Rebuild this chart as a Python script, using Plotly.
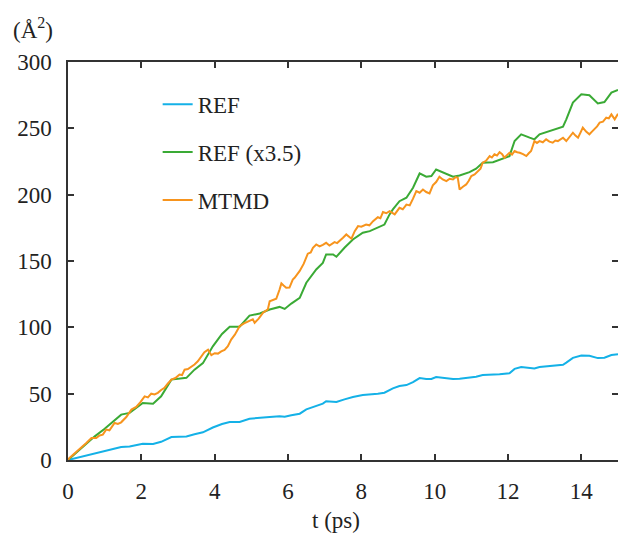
import plotly.graph_objects as go

# ---- data ----
t_ref = [0, 0.25, 0.5, 0.73, 1.0, 1.18, 1.45, 1.68, 1.86, 2.04, 2.32, 2.54, 2.82, 3.23, 3.45,
         3.68, 3.95, 4.2, 4.41, 4.68, 4.95, 5.23, 5.5, 5.77, 5.91, 6.09, 6.32, 6.5, 6.77, 6.95,
         7.04, 7.23, 7.32, 7.54, 7.77, 8.04, 8.23, 8.45, 8.63, 8.77, 8.86, 9.04, 9.23, 9.41,
         9.59, 9.77, 9.91, 10.04, 10.22, 10.5, 10.68, 10.95, 11.13, 11.31, 11.59, 11.77, 12.04,
         12.18, 12.36, 12.59, 12.72, 12.86, 13.22, 13.5, 13.59, 13.77, 14.0, 14.22, 14.45,
         14.63, 14.82, 15.0]
ref = [0, 1.71, 3.57, 5.09, 6.71, 7.97, 9.77, 10.14, 11.2, 12.29, 12.14, 13.71, 17.31, 17.69,
       19.46, 20.86, 24.49, 27.14, 28.71, 28.69, 31.11, 31.54, 32.4, 32.97, 32.54, 33.69, 34.91,
       38.17, 41.03, 42.46, 44.26, 44.26, 43.77, 45.71, 47.49, 48.94, 49.29, 50.0, 50.71, 52.89,
       53.97, 55.74, 56.49, 58.63, 61.71, 61.0, 61.14, 62.57, 61.89, 61.0, 61.29, 62.0, 62.74,
       64.0, 64.14, 64.6, 65.43, 68.69, 70.14, 69.43, 69.06, 70.14, 71.0, 71.8, 73.37, 76.97,
       78.74, 78.54, 76.8, 77.09, 79.11, 79.69]
scale = 3.5
ref_scaled = [v * scale for v in ref]

t_mtmd = [0, 0.04, 0.2, 0.36, 0.5, 0.64, 0.77, 0.86, 0.95, 1.04, 1.13, 1.27, 1.36, 1.45, 1.59,
          1.73, 1.86, 1.97, 2.09, 2.18, 2.27, 2.36, 2.45, 2.54, 2.63, 2.72, 2.82, 2.93, 3.04,
          3.11, 3.18, 3.27, 3.36, 3.45, 3.54, 3.63, 3.72, 3.82, 3.91, 4.0, 4.09, 4.18, 4.27,
          4.36, 4.45, 4.55, 4.68, 4.8, 4.95, 5.04, 5.09, 5.2, 5.32, 5.45, 5.5, 5.59, 5.68, 5.77,
          5.82, 5.88, 5.95, 6.04, 6.13, 6.18, 6.25, 6.32, 6.43, 6.54, 6.62, 6.68, 6.77, 6.86,
          6.95, 7.04, 7.13, 7.2, 7.27, 7.34, 7.41, 7.5, 7.59, 7.66, 7.73, 7.82, 7.91, 8.0, 8.13,
          8.22, 8.32, 8.45, 8.52, 8.59, 8.68, 8.77, 8.84, 8.91, 9.04, 9.13, 9.23, 9.32, 9.41,
          9.5, 9.59, 9.68, 9.77, 9.86, 9.95, 10.04, 10.13, 10.22, 10.32, 10.41, 10.5, 10.57,
          10.63, 10.68, 10.77, 10.86, 10.93, 11.0, 11.09, 11.18, 11.25, 11.31, 11.4, 11.5,
          11.56, 11.63, 11.7, 11.77, 11.84, 11.9, 11.97, 12.04, 12.11, 12.18, 12.25, 12.32,
          12.41, 12.5, 12.56, 12.63, 12.72, 12.79, 12.86, 12.95, 13.04, 13.13, 13.22, 13.29,
          13.36, 13.43, 13.5, 13.59, 13.68, 13.77, 13.84, 13.91, 13.98, 14.04, 14.13, 14.22,
          14.29, 14.36, 14.43, 14.5, 14.59, 14.68, 14.75, 14.82, 14.91, 15.0]
mtmd = [0, 1.5, 5.5, 9.1, 12.8, 16.6, 16.6, 18.5, 19.1, 22.9, 22.4, 27.9, 27.2, 28.4, 32.4,
        38.0, 40.0, 43.5, 48.0, 47.2, 50.0, 49.4, 50.6, 52.8, 54.3, 57.5, 60.6, 61.8, 64.4,
        64.0, 68.1, 68.6, 70.2, 72.0, 74.4, 77.5, 81.2, 83.2, 79.0, 80.5, 80.2, 81.9, 83.0,
        85.7, 90.8, 94.5, 100.8, 103.0, 104.6, 106.0, 103.4, 106.5, 111.0, 113.5, 119.7, 120.5,
        121.5, 128.5, 133.1, 131.5, 129.8, 130.0, 136.0, 137.3, 139.5, 142.5, 148.0, 155.5,
        156.5, 160.0, 162.5, 161.0, 162.2, 163.7, 161.7, 163.0, 164.2, 163.5, 165.0, 167.5,
        170.0, 168.5, 166.8, 172.5, 176.3, 175.8, 177.5, 176.9, 180.0, 183.0, 182.2, 186.9,
        186.0, 187.6, 186.5, 185.1, 190.1, 189.0, 192.5, 191.9, 197.0, 202.7, 201.5, 203.9,
        202.0, 200.9, 207.0, 209.5, 213.5, 211.5, 210.2, 212.0, 211.5, 213.2, 212.8, 203.9,
        206.0, 207.7, 210.5, 214.0, 215.2, 217.8, 219.5, 224.1, 225.5, 229.1, 228.0, 230.4,
        229.5, 232.1, 230.5, 227.9, 229.5, 231.6, 230.2, 232.9, 232.0, 231.6, 230.5, 229.1,
        231.0, 232.9, 240.4, 239.0, 240.4, 239.5, 241.7, 240.0, 239.2, 240.8, 240.4, 241.5,
        242.9, 240.4, 243.5, 246.7, 244.5, 242.9, 247.0, 250.5, 247.5, 245.5, 247.5, 249.2,
        251.5, 254.3, 255.0, 258.0, 257.5, 260.5, 256.8, 261.0]

series_names = ["REF", "REF (x3.5)", "MTMD"]
x_ticks = [0, 2, 4, 6, 8, 10, 12, 14]
y_ticks = [0, 50, 100, 150, 200, 250, 300]

colors = ["#14b1e7", "#3aaa35", "#f7941d"]
FONT = "Liberation Serif, Times New Roman, DejaVu Serif, serif"
TXT = "#222222"
FS = 23

fig = go.Figure()
for name, xs, ys, c in zip(series_names, [t_ref, t_ref, t_mtmd],
                           [ref, ref_scaled, mtmd], colors):
    fig.add_trace(go.Scatter(x=xs, y=ys, mode="lines", name=name, legendgroup=name,
                             line=dict(color=c, width=2)))

axis_common = dict(showline=True, linecolor="#333333", linewidth=1.5, mirror="ticks",
                   ticks="inside", ticklen=6, tickwidth=1.5, tickcolor="#333333",
                   showgrid=False, zeroline=False, automargin=False,
                   tickfont=dict(family=FONT, size=FS, color=TXT))

fig.update_layout(
    width=618, height=533,
    margin=dict(l=68, r=0, t=62, b=73),
    paper_bgcolor="white", plot_bgcolor="white",
    font=dict(family=FONT, size=FS, color=TXT),
    xaxis=dict(range=[0, 15], tickvals=x_ticks, ticklabelstandoff=10, **axis_common),
    yaxis=dict(range=[0, 300], tickvals=y_ticks, ticklabelstandoff=10, **axis_common),
    showlegend=True,
    legend=dict(x=0.163, y=0.948, xanchor="left", yanchor="top", bgcolor="rgba(0,0,0,0)",
                font=dict(family=FONT, size=FS, color=TXT), tracegroupgap=15,
                itemwidth=30),
    annotations=[
        dict(text="(Å<sup>2</sup>)", xref="paper", yref="paper", x=-0.103, y=1.085,
             xanchor="left", yanchor="middle", showarrow=False,
             font=dict(family=FONT, size=FS, color=TXT)),
        dict(text="t (ps)", xref="paper", yref="paper", x=0.488, y=-0.151,
             xanchor="center", yanchor="middle", showarrow=False,
             font=dict(family=FONT, size=FS, color=TXT)),
    ],
)

fig.write_html("out.html", config={"displayModeBar": False},
               post_script="document.body.style.margin='0';document.body.style.padding='0';")
